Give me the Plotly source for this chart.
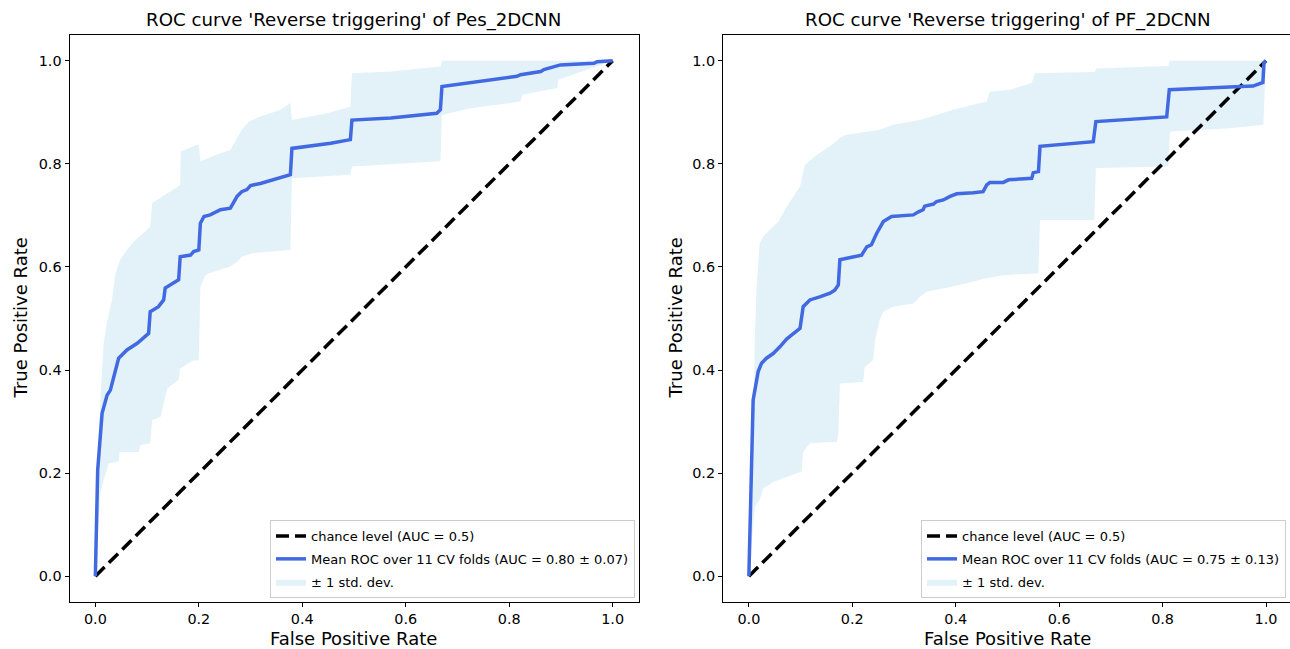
import plotly.graph_objects as go

# ---------------- data ----------------
chance_x = [0.0, 1.0]
chance_y = [0.0, 1.0]

# Left panel: Pes_2DCNN
fpr_pes_mean = [0, 0.0045, 0.013, 0.0226, 0.029, 0.045, 0.061, 0.081, 0.103, 0.106,
                0.122, 0.132, 0.135, 0.155, 0.161, 0.164, 0.184, 0.19, 0.2, 0.203,
                0.21, 0.222, 0.242, 0.261, 0.267, 0.274, 0.283, 0.293, 0.3, 0.319,
                0.377, 0.38, 0.455, 0.493, 0.496, 0.571, 0.66, 0.667, 0.67, 0.725,
                0.815, 0.822, 0.861, 0.867, 0.893, 0.899, 0.964, 0.97, 1.0]
tpr_pes_mean = [0, 0.206, 0.316, 0.351, 0.361, 0.423, 0.439, 0.452, 0.471, 0.513,
                0.523, 0.536, 0.559, 0.571, 0.575, 0.62, 0.623, 0.63, 0.633, 0.685,
                0.698, 0.701, 0.711, 0.714, 0.724, 0.737, 0.746, 0.75, 0.758, 0.762,
                0.779, 0.83, 0.84, 0.847, 0.885, 0.889, 0.898, 0.905, 0.95, 0.957,
                0.97, 0.973, 0.979, 0.983, 0.989, 0.992, 0.995, 0.998, 1.0]
fpr_pes_up = [0, 0.002, 0.005, 0.0097, 0.016, 0.022, 0.032, 0.039, 0.048, 0.061,
              0.074, 0.1, 0.106, 0.11, 0.119, 0.139, 0.158, 0.164, 0.165, 0.187,
              0.197, 0.2, 0.203, 0.235, 0.261, 0.283, 0.297, 0.319, 0.358, 0.377,
              0.38, 0.448, 0.493, 0.496, 0.571, 0.667, 0.67, 1.0]
tpr_pes_up = [0, 0.12, 0.25, 0.34, 0.452, 0.491, 0.536, 0.588, 0.614, 0.633,
              0.649, 0.672, 0.678, 0.724, 0.73, 0.743, 0.756, 0.759, 0.824, 0.834,
              0.837, 0.837, 0.805, 0.818, 0.827, 0.866, 0.882, 0.892, 0.905, 0.918,
              0.885, 0.898, 0.911, 0.976, 0.979, 0.989, 1.0, 1.0]
fpr_pes_lo = [0, 0.003, 0.0097, 0.016, 0.026, 0.045, 0.047, 0.084, 0.087, 0.106,
              0.11, 0.126, 0.139, 0.161, 0.164, 0.174, 0.19, 0.2, 0.203, 0.213,
              0.22, 0.261, 0.274, 0.283, 0.306, 0.377, 0.38, 0.493, 0.496, 0.667,
              0.67, 0.725, 0.822, 0.825, 0.893, 0.895, 0.97, 1.0]
tpr_pes_lo = [0, 0.05, 0.161, 0.186, 0.219, 0.222, 0.241, 0.241, 0.254, 0.258,
              0.303, 0.309, 0.364, 0.381, 0.403, 0.41, 0.419, 0.419, 0.562, 0.584,
              0.588, 0.601, 0.61, 0.62, 0.627, 0.633, 0.772, 0.779, 0.795, 0.805,
              0.895, 0.908, 0.921, 0.934, 0.947, 0.963, 0.989, 1.0]

# Right panel: PF_2DCNN
fpr_pf_mean = [0, 0.0083, 0.018, 0.0245, 0.034, 0.047, 0.06, 0.073, 0.083, 0.099,
               0.105, 0.118, 0.137, 0.157, 0.166, 0.173, 0.176, 0.202, 0.218, 0.228,
               0.237, 0.247, 0.26, 0.276, 0.318, 0.328, 0.337, 0.34, 0.357, 0.363,
               0.376, 0.389, 0.402, 0.434, 0.453, 0.46, 0.466, 0.492, 0.502, 0.547,
               0.55, 0.56, 0.563, 0.666, 0.671, 0.808, 0.813, 0.93, 0.975, 0.994,
               0.996, 1.0]
tpr_pf_mean = [0, 0.342, 0.397, 0.413, 0.423, 0.432, 0.445, 0.46, 0.468, 0.481,
               0.523, 0.536, 0.542, 0.549, 0.555, 0.565, 0.614, 0.62, 0.623, 0.639,
               0.643, 0.665, 0.688, 0.698, 0.701, 0.707, 0.711, 0.718, 0.722, 0.727,
               0.73, 0.737, 0.742, 0.744, 0.746, 0.759, 0.764, 0.764, 0.769, 0.772,
               0.783, 0.785, 0.834, 0.843, 0.882, 0.891, 0.944, 0.949, 0.951, 0.958,
               0.996, 1.0]
fpr_pf_up = [0, 0.006, 0.0116, 0.015, 0.021, 0.028, 0.041, 0.057, 0.073, 0.099,
             0.108, 0.131, 0.157, 0.176, 0.186, 0.215, 0.253, 0.279, 0.331, 0.395,
             0.46, 0.466, 0.505, 0.547, 0.553, 0.669, 0.672, 0.811, 0.814, 1.0]
tpr_pf_up = [0, 0.1, 0.465, 0.562, 0.646, 0.659, 0.672, 0.688, 0.717, 0.756,
             0.798, 0.817, 0.834, 0.85, 0.856, 0.86, 0.866, 0.876, 0.885, 0.905,
             0.921, 0.94, 0.944, 0.957, 0.976, 0.978, 0.985, 0.99, 1.0, 1.0]
fpr_pf_lo = [0, 0.0116, 0.021, 0.028, 0.047, 0.066, 0.102, 0.105, 0.118, 0.17,
             0.173, 0.176, 0.221, 0.224, 0.24, 0.244, 0.253, 0.26, 0.279, 0.318,
             0.331, 0.344, 0.395, 0.46, 0.492, 0.56, 0.563, 0.668, 0.671, 0.811,
             0.814, 0.93, 0.995, 1.0]
tpr_pf_lo = [0, 0.135, 0.148, 0.17, 0.183, 0.19, 0.203, 0.241, 0.258, 0.261,
             0.277, 0.374, 0.377, 0.406, 0.419, 0.458, 0.497, 0.513, 0.523, 0.529,
             0.542, 0.552, 0.562, 0.578, 0.584, 0.588, 0.691, 0.691, 0.792, 0.795,
             0.863, 0.869, 0.876, 1.0]

titles = ["ROC curve 'Reverse triggering' of Pes_2DCNN",
          "ROC curve 'Reverse triggering' of PF_2DCNN"]
mean_labels = ["Mean ROC over 11 CV folds (AUC = 0.80 ± 0.07)",
               "Mean ROC over 11 CV folds (AUC = 0.75 ± 0.13)"]
chance_label = "chance level (AUC = 0.5)"
std_label = "± 1 std. dev."
tick_vals = [0.0, 0.2, 0.4, 0.6, 0.8, 1.0]
tick_text = ["0.0", "0.2", "0.4", "0.6", "0.8", "1.0"]

# ---------------- styling ----------------
W, H = 1290, 649
FONT = "DejaVu Sans"
BAND = "#e3f2f9"
MEAN = "#4169e1"

panels = [
    dict(xa="x", ya="y", leg="legend",
         fpr=fpr_pes_mean, tpr=tpr_pes_mean,
         fu=fpr_pes_up, tu=tpr_pes_up, fl=fpr_pes_lo, tl=tpr_pes_lo),
    dict(xa="x2", ya="y2", leg="legend2",
         fpr=fpr_pf_mean, tpr=tpr_pf_mean,
         fu=fpr_pf_up, tu=tpr_pf_up, fl=fpr_pf_lo, tl=tpr_pf_lo),
]

fig = go.Figure()
for i, p in enumerate(panels):
    fig.add_trace(go.Scatter(
        x=p["fu"] + p["fl"][::-1], y=p["tu"] + p["tl"][::-1],
        fill="toself", fillcolor=BAND, mode="lines", line=dict(width=0, color=BAND),
        name=std_label, legend=p["leg"], legendrank=3, legendgroup=f"s{i}",
        xaxis=p["xa"], yaxis=p["ya"], hoverinfo="skip"))
    fig.add_trace(go.Scatter(
        x=chance_x, y=chance_y, mode="lines",
        line=dict(color="black", width=3.5, dash="13px,6px"),
        name=chance_label, legend=p["leg"], legendrank=1, legendgroup=f"c{i}",
        xaxis=p["xa"], yaxis=p["ya"]))
    fig.add_trace(go.Scatter(
        x=p["fpr"], y=p["tpr"], mode="lines",
        line=dict(color=MEAN, width=3.5),
        name=mean_labels[i], legend=p["leg"], legendrank=2, legendgroup=f"m{i}",
        xaxis=p["xa"], yaxis=p["ya"]))

y_dom = [1 - 602 / H, 1 - 35 / H]
axis_common = dict(showgrid=False, zeroline=False, showline=True, linecolor="black",
                   linewidth=1, ticks="outside", ticklen=4, tickwidth=1,
                   tickcolor="black", tickfont=dict(family=FONT, size=14.4, color="black"),
                   tickvals=tick_vals, ticktext=tick_text, fixedrange=True)

legend_common = dict(xanchor="right", yanchor="bottom", y=1 - 598 / H,
                     bgcolor="white", bordercolor="#cccccc", borderwidth=1,
                     font=dict(family=FONT, size=13, color="black"), tracegroupgap=3)

fig.update_layout(
    width=W, height=H, margin=dict(l=0, r=0, t=0, b=0),
    paper_bgcolor="white", plot_bgcolor="white",
    font=dict(family=FONT, color="black"),
    xaxis=dict(domain=[69.5 / W, 638.5 / W], range=[-0.05, 1.05], anchor="y",
               mirror=True, **axis_common),
    yaxis=dict(domain=y_dom, range=[-0.05, 1.05], anchor="x", mirror=True, **axis_common),
    xaxis2=dict(domain=[723 / W, 1.0], range=[-0.05, 1.0464], anchor="y2",
                mirror=True, **axis_common),
    yaxis2=dict(domain=y_dom, range=[-0.05, 1.05], anchor="x2", mirror=False, **axis_common),
    legend=dict(x=635 / W, **legend_common),
    legend2=dict(x=1286 / W, **legend_common),
    showlegend=True,
)

centers = [353.5, 1007.5]
ylab_x = [20, 675]
ann = []
for i in range(2):
    ann.append(dict(text=titles[i], x=centers[i] / W, y=1 - 20 / H, xref="paper", yref="paper",
                    xanchor="center", yanchor="middle", showarrow=False,
                    font=dict(family=FONT, size=18.2, color="black")))
    ann.append(dict(text="False Positive Rate", x=centers[i] / W, y=1 - 638.5 / H,
                    xref="paper", yref="paper", xanchor="center", yanchor="middle",
                    showarrow=False, font=dict(family=FONT, size=18, color="black")))
    ann.append(dict(text="True Positive Rate", x=ylab_x[i] / W, y=1 - 318.5 / H,
                    xref="paper", yref="paper", xanchor="center", yanchor="middle",
                    textangle=-90, showarrow=False,
                    font=dict(family=FONT, size=18, color="black")))
fig.update_layout(annotations=ann)

fig.write_html("out.html")
